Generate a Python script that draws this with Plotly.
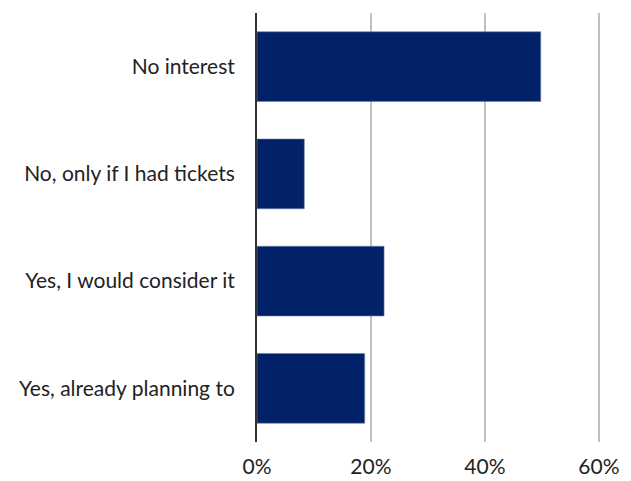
import plotly.graph_objects as go

categories = ["No interest", "No, only if I had tickets", "Yes, I would consider it", "Yes, already planning to"]
values = [49.8, 8.3, 22.3, 18.9]
tick_vals = [0, 20, 40, 60]
tick_text = ["0%", "20%", "40%", "60%"]

fig = go.Figure(go.Bar(
    x=values, y=categories, orientation="h",
    marker=dict(color="#012169", line=dict(color="#6f7fb0", width=0.6)),
    width=0.65,
))

font_family = "Lato, 'Noto Sans', sans-serif"
fig.update_layout(
    width=631, height=481,
    margin=dict(l=257, r=31, t=13, b=39),
    paper_bgcolor="white", plot_bgcolor="white",
    showlegend=False,
    font=dict(family=font_family, size=21, color="#222222"),
    xaxis=dict(range=[0, 60.2], tickvals=tick_vals, ticktext=tick_text,
               showgrid=True, gridcolor="#c0c0c0", gridwidth=2,
               zeroline=False, showline=False, ticks="", ticklabelstandoff=10,
               automargin=False,
               tickfont=dict(size=21, color="#222222")),
    yaxis=dict(categoryorder="array", categoryarray=categories[::-1],
               range=[-0.5, 3.5], automargin=False,
               showgrid=False, zeroline=False, showline=True,
               linecolor="#333333", linewidth=2, ticks="", ticklabelstandoff=16,
               tickfont=dict(size=21, color="#222222")),
)

fig.write_html("out.html")
